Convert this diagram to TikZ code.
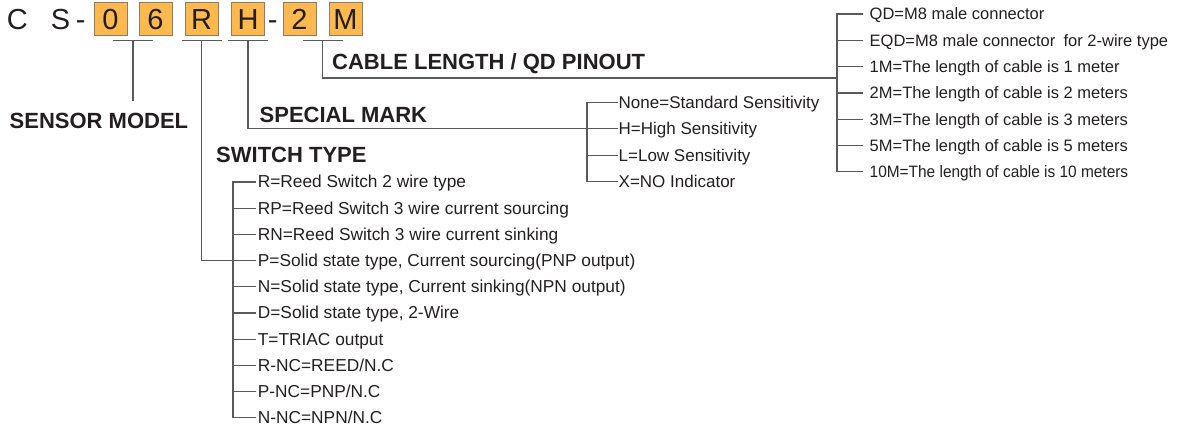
\documentclass[tikz,border=0pt]{standalone}
\usepackage{fontspec}
\setmainfont{Liberation Sans}
\usepackage{tikz}
\usetikzlibrary{calc}
\definecolor{codefill}{HTML}{FDB94E}
\definecolor{codeedge}{HTML}{8C7D66}
\definecolor{inktext}{HTML}{231F20}
\definecolor{wiregray}{HTML}{5A5A5A}

\begin{document}
\begin{tikzpicture}[x=1pt, y=-1pt,
    wire/.style={draw=wiregray, line width=1.2pt},
    codebox/.style={draw=codeedge, line width=1pt, fill=codefill, minimum size=33pt, inner sep=0pt,
        font=\fontsize{29}{30}\selectfont, text=inktext, text height=21pt, text depth=0pt},
    codechar/.style={anchor=base west, inner sep=0pt, font=\fontsize{29}{30}\selectfont, text=inktext},
    heading/.style={anchor=base west, inner sep=0pt, font=\fontsize{22}{24}\selectfont\bfseries, text=inktext},
    item/.style={anchor=west, inner ysep=0pt, text height=11.8pt, text depth=0pt,
        font=\fontsize{16.5}{18}\selectfont, text=inktext}]
    \useasboundingbox (0,0) rectangle (1184,431);

    \node[codechar] (tC) at (6.6,29) {C};
    \node[codechar] (tS) at (50.6,29) {S};
    \node[codechar] (tdash1) at (75.7,29) {-};
    \node[codechar] (tdash2) at (267.7,29) {-};
    \foreach \c/\x in {0/110.5, 6/155.5, R/201.5, H/248, 2/299.5, M/345.5} {
        \node[codebox] (b\c) at (\x,18.5) {\c};
    }

    \coordinate (smbr) at ($(b0.south)!.5!(b6.south)+(0,5)$);
    \coordinate (swbr) at ($(bR.south)+(0,5)$);
    \coordinate (mkbr) at ($(bH.south)+(0,5)$);
    \coordinate (clbr) at ($(b2.south)!.5!(bM.south)+(0,5)$);
    \foreach \b in {smbr,swbr,mkbr,clbr} {
        \draw[wire] ($(\b)+(-20,0)$) -- ($(\b)+(20,0)$);
    }

    \node[heading] (model) at (9.5,128) {SENSOR MODEL};
    \node[heading] (mark) at (259.5,122) {SPECIAL MARK};
    \node[heading] (cable) at (332,69.5) {CABLE LENGTH / QD PINOUT};
    \node[heading] (swtype) at (216,162) {SWITCH TYPE};

    \draw[wire] (smbr) -- ($(smbr |- model.north)+(0,-11)$);

    \coordinate (swbar) at (233,0);
    \foreach \t [count=\i] in {{R=Reed Switch 2 wire type}, {RP=Reed Switch 3 wire current sourcing},
        {RN=Reed Switch 3 wire current sinking}, {P=Solid state type, Current sourcing(PNP output)},
        {N=Solid state type, Current sinking(NPN output)}, {D=Solid state type, 2-Wire},
        {T=TRIAC output}, {R-NC=REED/N.C}, {P-NC=PNP/N.C}, {N-NC=NPN/N.C}} {
        \node[item, inner xsep=1.7pt, font=\fontsize{17.3}{19}\selectfont] (sw\i) at (256,{182+26.2*(\i-1)}) {\t};
    }
    \draw[wire] (sw1.west) -| (swbar |- sw10.west) -- (sw10.west);
    \foreach \i in {2,...,9} {
        \draw[wire] (swbar |- sw\i.west) -- (sw\i.west);
    }
    \draw[wire] (swbr) |- (sw4.west);

    \coordinate (mkbar) at (587,0);
    \foreach \t [count=\i] in {{None=Standard Sensitivity}, {H=High Sensitivity},
        {L=Low Sensitivity}, {X=NO Indicator}} {
        \node[item, inner xsep=0.5pt, font=\fontsize{17}{19}\selectfont] (mk\i) at (618,{102.5+26.3*(\i-1)}) {\t};
    }
    \draw[wire] (mk1.west) -| (mkbar |- mk4.west) -- (mk4.west);
    \draw[wire] (mkbar |- mk3.west) -- (mk3.west);
    \draw[wire] (mkbr) |- (mk2.west);

    \coordinate (clbar) at (837,0);
    \foreach \t [count=\i] in {{QD=M8 male connector}, {EQD=M8 male connector\enspace for 2-wire type},
        {1M=The length of cable is 1 meter}, {2M=The length of cable is 2 meters},
        {3M=The length of cable is 3 meters}, {5M=The length of cable is 5 meters},
        {\scalebox{0.935}[1]{10M=The length of cable is 10 meters}}} {
        \node[item, inner xsep=6.5pt] (cl\i) at (863,{14+26.3*(\i-1)}) {\t};
    }
    \draw[wire] (cl1.west) -| (clbar |- cl7.west) -- (cl7.west);
    \foreach \i in {2,...,6} {
        \draw[wire] (clbar |- cl\i.west) -- (cl\i.west);
    }
    \coordinate (cljoin) at (837,78);
    \draw[wire] (clbr) |- (cljoin);
\end{tikzpicture}
\end{document}
